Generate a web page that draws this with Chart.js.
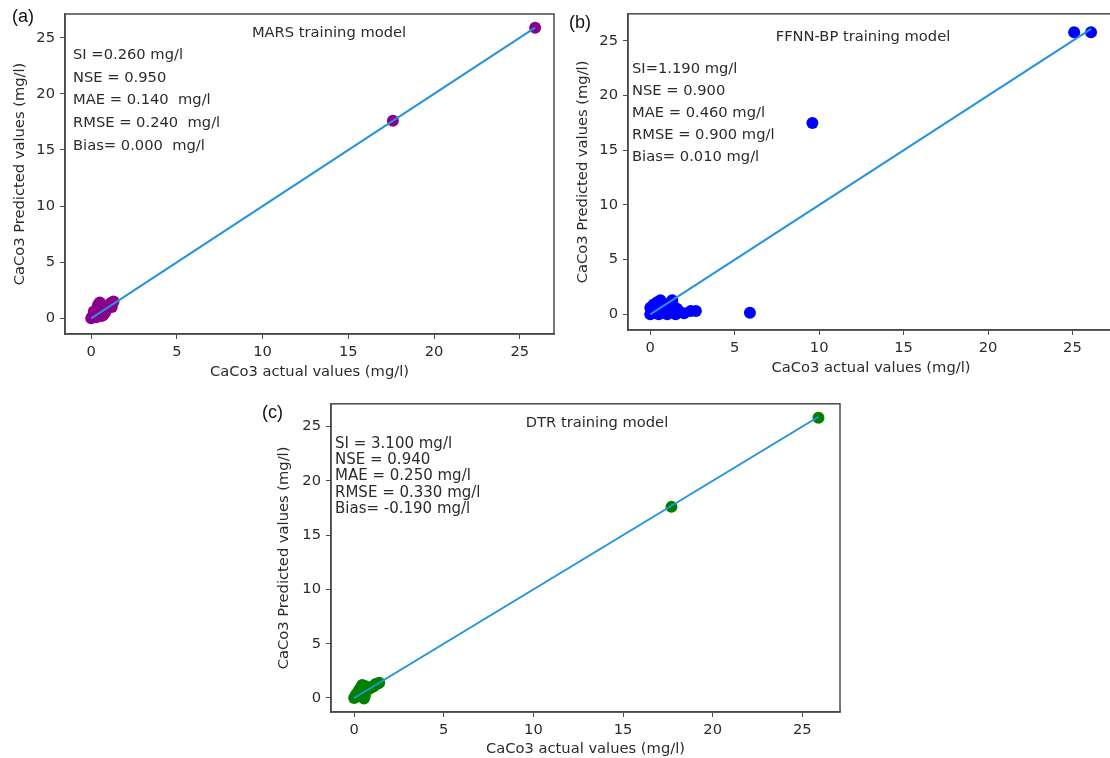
<!DOCTYPE html>
<html>
<head>
<meta charset="utf-8">
<script src="https://cdn.jsdelivr.net/npm/chart.js@4"></script>
<style>
  body { margin: 0; background: #fff; width: 1110px; height: 758px; overflow: hidden; position: relative; }
  canvas { position: absolute; }
  .tag { position: absolute; font-family: 'Liberation Sans', Arial, sans-serif; font-size: 18px; color: #111; }
</style>
</head>
<body>
<canvas id="chartA" width="560" height="390" style="left:0;top:0"></canvas>
<canvas id="chartB" width="560" height="390" style="left:560px;top:0"></canvas>
<canvas id="chartC" width="600" height="368" style="left:260px;top:390px"></canvas>
<div class="tag" style="left:12px;top:6px">(a)</div>
<div class="tag" style="left:569px;top:12px">(b)</div>
<div class="tag" style="left:262px;top:402px">(c)</div>
<script>
const tickValues = [0, 5, 10, 15, 20, 25];

// (a) MARS
const marsActual =    [0, 0.05, 0.1, 0.2, 0.3, 0.35, 0.4, 0.5, 0.55, 0.6, 0.7, 0.7, 0.8, 0.9, 1.1, 1.2, 1.3, 1.2, 0.3, 0.15, 17.6, 25.9];
const marsPredicted = [0, 0.1, 0.2, 0.3, 0.5, 0.9, 1.2, 1.4, 0.6, 0.2, 0.3, 1.1, 0.5, 0.8, 1.3, 1.0, 1.5, 1.4, 0.1, 0.6, 17.6, 25.9];
const marsLine = [0, 25.9];
const marsStats = ['SI =0.260 mg/l', 'NSE = 0.950', 'MAE = 0.140  mg/l', 'RMSE = 0.240  mg/l', 'Bias= 0.000  mg/l'];

// (b) FFNN-BP
const ffnnActual =    [0, 0, 0.1, 0.2, 0.3, 0.4, 0.5, 0.6, 0.7, 0.8, 0.9, 1.0, 1.1, 1.2, 1.3, 1.4, 1.5, 1.6, 1.7, 2.0, 2.4, 2.7, 0.5, 0.3, 5.9, 9.6, 25.1, 26.1];
const ffnnPredicted = [0, 0.6, 0.3, 0.9, 0.1, 1.1, 0.5, 1.3, 0.2, 1.0, 0.6, 0.0, 0.9, 0.4, 1.3, 0.7, 0.0, 0.5, 0.2, 0.1, 0.3, 0.3, 0.0, 0.7, 0.15, 17.5, 25.8, 25.8];
const ffnnLine = [0, 26.1];
const ffnnStats = ['SI=1.190 mg/l', 'NSE = 0.900', 'MAE = 0.460 mg/l', 'RMSE = 0.900 mg/l', 'Bias= 0.010 mg/l'];

// (c) DTR
const dtrActual =    [0, 0.05, 0.1, 0.2, 0.3, 0.4, 0.45, 0.5, 0.6, 0.6, 0.7, 0.8, 0.9, 1.0, 1.1, 1.2, 1.3, 1.4, 0.3, 0.55, 17.7, 25.9];
const dtrPredicted = [0, 0.1, 0.3, 0.5, 0.8, 1.0, 1.2, 0.6, 0.2, 1.1, 0.9, 0.8, 1.0, 1.0, 1.1, 1.3, 1.3, 1.4, 0.2, -0.05, 17.6, 25.8];
const dtrLine = [0, 25.9];
const dtrStats = ['SI = 3.100 mg/l', 'NSE = 0.940', 'MAE = 0.250 mg/l', 'RMSE = 0.330 mg/l', 'Bias= -0.190 mg/l'];

const textColor = '#2b2b2b';
const frameColor = '#4a4a4a';
const lineColor = '#2393dc';
const fontSize = 14.7;
Chart.defaults.font.family = "'DejaVu Sans', sans-serif";
Chart.defaults.color = textColor;

const panelText = {
  id: 'panelText',
  afterDraw(chart, args, opts) {
    const {ctx, chartArea} = chart;
    ctx.save();
    // full frame around the axes
    ctx.strokeStyle = frameColor;
    ctx.lineWidth = 1.5;
    ctx.strokeRect(chartArea.left, chartArea.top, chartArea.right - chartArea.left, chartArea.bottom - chartArea.top);
    ctx.fillStyle = textColor;
    ctx.textBaseline = 'middle';
    ctx.font = opts.titleSize + "px 'DejaVu Sans'";
    ctx.textAlign = 'center';
    ctx.fillText(opts.title, chartArea.left + opts.titleX, chartArea.top + opts.titleY);
    ctx.font = opts.textSize + "px 'DejaVu Sans'";
    ctx.textAlign = 'left';
    opts.lines.forEach((s, i) => {
      ctx.fillText(s, chartArea.left + opts.x, chartArea.top + opts.y + i * opts.step);
    });
    ctx.restore();
  }
};

function toPoints(xs, ys) {
  return xs.map((x, i) => ({x: x, y: ys[i]}));
}

function makePanel(id, p) {
  const ctx = document.getElementById(id);
  new Chart(ctx, {
    type: 'scatter',
    data: {
      datasets: [{
        type: 'line',
        data: toPoints(p.line, p.line),
        borderColor: lineColor,
        borderWidth: 2,
        pointRadius: 0,
        order: 0
      }, {
        data: toPoints(p.actual, p.predicted),
        backgroundColor: p.color,
        borderColor: p.color,
        pointRadius: 6,
        pointBorderWidth: 0,
        order: 1
      }]
    },
    options: {
      responsive: false,
      animation: false,
      devicePixelRatio: 1,
      layout: { padding: p.padding },
      plugins: {
        legend: { display: false },
        tooltip: { enabled: false },
        panelText: p.text
      },
      scales: {
        x: {
          type: 'linear',
          min: p.xRange[0],
          max: p.xRange[1],
          afterBuildTicks: (s) => { s.ticks = tickValues.map(v => ({value: v})); },
          afterFit: (s) => { s.height = p.xHeight; },
          ticks: { font: { size: fontSize }, padding: 4, color: textColor },
          grid: { drawOnChartArea: false, tickLength: 5, tickColor: frameColor },
          border: { color: frameColor, width: 1.5 },
          title: { display: true, text: 'CaCo3 actual values (mg/l)', font: { size: fontSize }, padding: { bottom: p.xTitlePad }, color: textColor }
        },
        y: {
          type: 'linear',
          min: p.yRange[0],
          max: p.yRange[1],
          afterBuildTicks: (s) => { s.ticks = tickValues.map(v => ({value: v})); },
          afterFit: (s) => { s.width = p.yWidth; },
          ticks: { font: { size: fontSize }, padding: 5, color: textColor },
          grid: { drawOnChartArea: false, tickLength: 5, tickColor: frameColor },
          border: { color: frameColor, width: 1.5 },
          title: { display: true, text: 'CaCo3 Predicted values (mg/l)', font: { size: fontSize }, padding: { top: p.yTitlePad }, color: textColor }
        }
      }
    },
    plugins: [panelText]
  });
}

makePanel('chartA', {
  actual: marsActual, predicted: marsPredicted, line: marsLine, color: '#8b008b',
  xRange: [-1.53, 27.0], yRange: [-1.4, 27.12],
  padding: { top: 14, right: 3, left: 0, bottom: 0 }, yWidth: 65, xHeight: 56,
  xTitlePad: 9, yTitlePad: 11,
  text: { title: 'MARS training model', titleX: 264, titleY: 19, titleSize: fontSize,
          lines: marsStats, x: 8, y: 41, step: 22.7, textSize: fontSize }
});

makePanel('chartB', {
  actual: ffnnActual, predicted: ffnnPredicted, line: ffnnLine, color: '#0000ff',
  xRange: [-1.32, 27.46], yRange: [-1.43, 27.48],
  padding: { top: 12, right: 1, left: 0, bottom: 0 }, yWidth: 68, xHeight: 60,
  xTitlePad: 13, yTitlePad: 14,
  text: { title: 'FFNN-BP training model', titleX: 235, titleY: 23, titleSize: fontSize,
          lines: ffnnStats, x: 4, y: 55, step: 22.2, textSize: fontSize }
});

makePanel('chartC', {
  actual: dtrActual, predicted: dtrPredicted, line: dtrLine, color: '#008000',
  xRange: [-1.29, 27.1], yRange: [-1.29, 27.09],
  padding: { top: 13, right: 20, left: 0, bottom: 0 }, yWidth: 71, xHeight: 46,
  xTitlePad: 0, yTitlePad: 15,
  text: { title: 'DTR training model', titleX: 266, titleY: 19, titleSize: fontSize,
          lines: dtrStats, x: 4, y: 40, step: 16.3, textSize: 15 }
});
</script>
</body>
</html>
